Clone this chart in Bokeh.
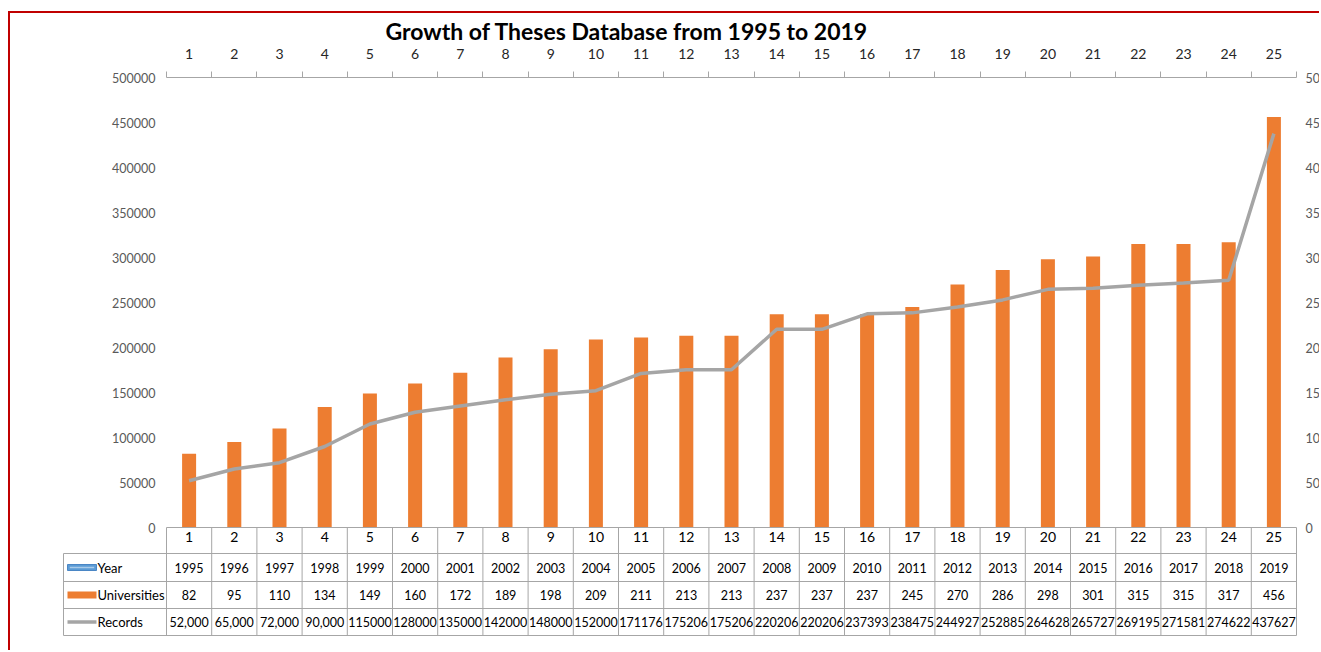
from bokeh.plotting import figure
from bokeh.models import (Range1d, LinearAxis, FixedTicker, BasicTickFormatter,
                          ColumnDataSource)
from bokeh.core.properties import value
from bokeh.embed import file_html
from bokeh.resources import INLINE

# ---------------- data ----------------
index = list(range(1, 26))
years = [1995, 1996, 1997, 1998, 1999, 2000, 2001, 2002, 2003, 2004, 2005, 2006, 2007,
         2008, 2009, 2010, 2011, 2012, 2013, 2014, 2015, 2016, 2017, 2018, 2019]
universities = [82, 95, 110, 134, 149, 160, 172, 189, 198, 209, 211, 213, 213,
                237, 237, 237, 245, 270, 286, 298, 301, 315, 315, 317, 456]
records = [52000, 65000, 72000, 90000, 115000, 128000, 135000, 142000, 148000, 152000,
           171176, 175206, 175206, 220206, 220206, 237393, 238475, 244927, 252885,
           264628, 265727, 269195, 271581, 274622, 437627]
records_text = ["52,000", "65,000", "72,000", "90,000", "115000", "128000", "135000",
                "142000", "148000", "152000", "171176", "175206", "175206", "220206",
                "220206", "237393", "238475", "244927", "252885", "264628", "265727",
                "269195", "271581", "274622", "437627"]
row_labels = ["Year", "Universities", "Records"]
left_ticks = list(range(0, 500001, 50000))
right_ticks = list(range(0, 501, 50))
title_text = "Growth of Theses Database from 1995 to 2019"

# ---------------- layout (pixels) ----------------
W, H = 1311, 639
CAT_PX = 45.2                 # pixel width of one category
PX_PER_UNIT = 450 / 500000    # left axis scale
TABLE_ROWS_PX = [0, 26, 54, 81, 108]   # row borders below the zero line
FRAME_BELOW_ZERO = 110
FRAME_ABOVE_TOP = 31          # frame extends above the 500000 line
FRAME_LEFT_EXTRA = 105        # frame extends left of category 0.5 (for table labels)
FRAME_RIGHT_EXTRA = 25        # frame extends right of category 25.5 (for right axis)

x_start = 0.5 - FRAME_LEFT_EXTRA / CAT_PX
x_end = 25.5 + FRAME_RIGHT_EXTRA / CAT_PX
y_start = -FRAME_BELOW_ZERO / PX_PER_UNIT
y_end = 500000 + FRAME_ABOVE_TOP / PX_PER_UNIT
u_start = y_start * 500 / 500000
u_end = y_end * 500 / 500000

def ypx(px):
    return -px / PX_PER_UNIT

def xpx(px_left_of_first):
    return 0.5 - px_left_of_first / CAT_PX

FONT = value("Lato")

p = figure(width=W, height=H, x_range=Range1d(x_start, x_end),
           y_range=Range1d(y_start, y_end),
           output_backend="svg", toolbar_location=None,
           x_axis_location=None, y_axis_location=None,
           min_border_left=51, min_border_right=0, min_border_top=33,
           min_border_bottom=15)
p.grid.visible = False
p.outline_line_color = None
p.background_fill_color = "white"
p.border_fill_color = "white"
p.styles = {"border-left": "2px solid #C00000", "border-top": "2px solid #C00000",
            "margin-top": "11px", "margin-left": "8px"}
p.extra_y_ranges = {"univ": Range1d(u_start, u_end)}

# title
p.title.text = title_text
p.title.text_font = "Lato"
p.title.text_font_size = "23px"
p.title.text_font_style = "bold"
p.title.text_color = "#000000"
p.title.align = "left"
p.title.offset = 324
p.title.standoff = 3

# top axis (category numbers, ticks at boundaries)
top = LinearAxis(ticker=FixedTicker(ticks=index, minor_ticks=[i + 0.5 for i in range(0, 26)]),
                 fixed_location=500000, bounds=(0.5, 25.5))
top.axis_line_color = "#A6A6A6"
top.major_tick_out = 0
top.major_tick_in = 0
top.minor_tick_out = 6
top.minor_tick_in = 0
top.minor_tick_line_color = "#A6A6A6"
top.major_label_standoff = 13
top.major_label_text_font = "Lato"
top.major_label_text_font_size = "14px"
top.major_label_text_color = "#262626"
p.add_layout(top, "above")

# left axis (records)
left = LinearAxis(ticker=FixedTicker(ticks=left_ticks), fixed_location=0.5,
                  bounds=(0, 500000), formatter=BasicTickFormatter(use_scientific=False))
left.axis_line_color = None
left.major_tick_out = 0
left.major_tick_in = 0
left.minor_tick_out = 0
left.minor_tick_in = 0
left.major_label_standoff = 11
left.major_label_text_font = "Lato"
left.major_label_text_font_size = "12.5px"
left.major_label_text_color = "#595959"
p.add_layout(left, "left")

# right axis (universities)
right = LinearAxis(y_range_name="univ", ticker=FixedTicker(ticks=right_ticks),
                   fixed_location=25.5, bounds=(0, 500))
right.axis_line_color = None
right.major_tick_out = 0
right.major_tick_in = 0
right.minor_tick_out = 0
right.minor_tick_in = 0
right.major_label_standoff = 9
right.major_label_text_font = "Lato"
right.major_label_text_font_size = "12.5px"
right.major_label_text_color = "#595959"
p.add_layout(right, "right")

# bottom axis (first table row)
bottom = LinearAxis(ticker=FixedTicker(ticks=index), fixed_location=0, bounds=(0.5, 25.5))
bottom.axis_line_color = "#A6A6A6"
bottom.major_tick_out = 0
bottom.major_tick_in = 0
bottom.minor_tick_out = 0
bottom.minor_tick_in = 0
bottom.major_label_standoff = 4
bottom.major_label_text_font = "Lato"
bottom.major_label_text_font_size = "14px"
bottom.major_label_text_color = "#000000"
p.add_layout(bottom, "below")

# bars & line
p.vbar(x=index, top=universities, width=0.31, y_range_name="univ",
       fill_color="#ED7D31", line_color=None)
p.line(index, records, line_color="#A5A5A5", line_width=3.5)

# ---------------- data table ----------------
GRID = "#A6A6A6"
xl = xpx(103)
hx0, hx1, hy = [], [], []
for r in TABLE_ROWS_PX[1:]:
    hx0.append(xl); hx1.append(25.5); hy.append(ypx(r))
p.segment(x0=hx0, y0=hy, x1=hx1, y1=hy, line_color=GRID, line_width=1)
vx = [i + 0.5 for i in range(0, 26)]
p.segment(x0=vx, y0=[0] * len(vx), x1=vx, y1=[ypx(TABLE_ROWS_PX[-1])] * len(vx),
          line_color=GRID, line_width=1)
p.segment(x0=[xl], y0=[ypx(TABLE_ROWS_PX[1])], x1=[xl], y1=[ypx(TABLE_ROWS_PX[-1])],
          line_color=GRID, line_width=1)

row_centers = [ypx((TABLE_ROWS_PX[i] + TABLE_ROWS_PX[i + 1]) / 2) for i in range(1, 4)]
rows_text = [[str(y) for y in years], [str(u) for u in universities], records_text]
for yc, texts in zip(row_centers, rows_text):
    src = ColumnDataSource(dict(x=index, y=[yc] * len(index), t=texts))
    p.text(x="x", y="y", text="t", source=src, text_font=FONT, text_font_size="12.5px",
           text_align="center", text_baseline="middle", text_color="#000000")

p.text(x=[xpx(69)] * 3, y=row_centers, text=row_labels, text_font=FONT,
       text_font_size="13px", text_align="left", text_baseline="middle",
       text_color="#000000")

# legend keys
kx = xpx(166 - 81.5)
kw = 29 / CAT_PX
p.rect(x=[kx], y=[row_centers[0]], width=kw, height=6, height_units="screen",
       fill_color="#5B9BD5", line_color="#4A86C5", line_width=1)
p.segment(x0=[kx - kw / 2 + 0.05], y0=[row_centers[0]], x1=[kx + kw / 2 - 0.05],
          y1=[row_centers[0]], line_color="#A9CBEA", line_width=1.5)
p.rect(x=[kx], y=[row_centers[1]], width=kw, height=7, height_units="screen",
       fill_color="#ED7D31", line_color=None)
p.segment(x0=[kx - kw / 2], y0=[row_centers[2]], x1=[kx + kw / 2], y1=[row_centers[2]],
          line_color="#A5A5A5", line_width=3.5)

open("out.html", "w").write(file_html(p, INLINE))
